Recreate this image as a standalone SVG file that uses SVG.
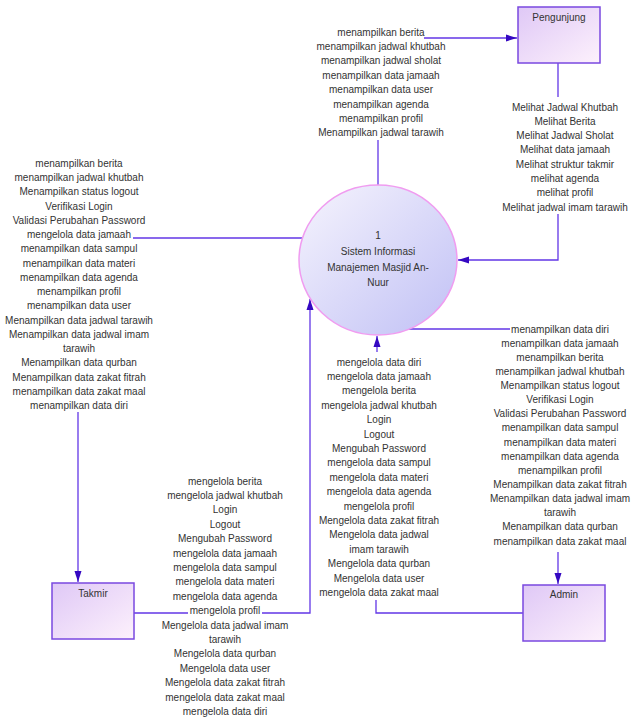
<svg xmlns="http://www.w3.org/2000/svg" width="637" height="718" viewBox="0 0 637 718">
<defs>
<linearGradient id="boxGrad" x1="0" y1="0" x2="1" y2="1">
<stop offset="0" stop-color="#dfc8f6"/>
<stop offset="1" stop-color="#fdf1fc"/>
</linearGradient>
<linearGradient id="procGrad" x1="0" y1="0" x2="1" y2="1">
<stop offset="0" stop-color="#f6f4fd"/>
<stop offset="1" stop-color="#c0c0f5"/>
</linearGradient>
<marker id="arr" markerUnits="userSpaceOnUse" markerWidth="12" markerHeight="9" refX="11" refY="4.5" orient="auto">
<path d="M0,1 L11,4.5 L0,8 z" fill="#3508c2"/>
</marker>
</defs>
<style>
.lbl{font-family:"Liberation Sans",Arial,sans-serif;font-size:10px;fill:#333;text-anchor:middle}
.box{fill:url(#boxGrad);stroke:#7a48e0;stroke-width:1.5}
.conn{fill:none;stroke:#6236e6;stroke-width:1.3}
</style>
<rect width="637" height="718" fill="#fff"/>

<g id="connectors">
<line class="conn" x1="378" y1="185" x2="378" y2="140"/>
<line class="conn" x1="424" y1="38" x2="517" y2="38" marker-end="url(#arr)"/>
<line class="conn" x1="558" y1="63" x2="558" y2="97"/>
<polyline class="conn" points="558,214 558,260 458,260" marker-end="url(#arr)"/>
<line class="conn" x1="302" y1="238" x2="133" y2="238"/>
<line class="conn" x1="78" y1="412" x2="78" y2="582" marker-end="url(#arr)"/>
<line class="conn" x1="134" y1="613" x2="188" y2="613"/>
<polyline class="conn" points="262,613 310,613 310,299" marker-end="url(#arr)"/>
<polyline class="conn" points="523,613 376,613 376,600"/>
<line class="conn" x1="377" y1="352" x2="377" y2="336" marker-end="url(#arr)"/>
<line class="conn" x1="407" y1="329" x2="510" y2="329"/>
<line class="conn" x1="558" y1="552" x2="558" y2="584" marker-end="url(#arr)"/>
</g>

<g id="process1">
<ellipse cx="378" cy="260" rx="79" ry="75" fill="url(#procGrad)" stroke="#f09cf0" stroke-width="1.5"/>
<text class="lbl" x="378" y="238.5">1</text>
<text class="lbl" x="378" y="254.5">Sistem Informasi</text>
<text class="lbl" x="378" y="270.5">Manajemen Masjid An-</text>
<text class="lbl" x="378" y="285.5">Nuur</text>
</g>

<g id="pengunjung">
<rect class="box" x="518" y="7" width="82" height="56"/>
<text class="lbl" x="559" y="21">Pengunjung</text>
</g>

<g id="takmir">
<rect class="box" x="52" y="583" width="82" height="56"/>
<text class="lbl" x="93" y="596.5">Takmir</text>
</g>

<g id="admin">
<rect class="box" x="523" y="585" width="82" height="56"/>
<text class="lbl" x="564" y="598">Admin</text>
</g>

<g id="labels-top">
<text class="lbl" x="381" y="35.5">menampilkan berita</text>
<text class="lbl" x="381" y="49.9">menampilkan jadwal khutbah</text>
<text class="lbl" x="381" y="64.3">menampilkan jadwal sholat</text>
<text class="lbl" x="381" y="78.7">menampilkan data jamaah</text>
<text class="lbl" x="381" y="93.1">menampilkan data user</text>
<text class="lbl" x="381" y="107.5">menampilkan agenda</text>
<text class="lbl" x="381" y="121.9">menampilkan profil</text>
<text class="lbl" x="381" y="136.3">Menampilkan jadwal tarawih</text>
</g>

<g id="labels-pengunjung">
<text class="lbl" x="565" y="110.5">Melihat Jadwal Khutbah</text>
<text class="lbl" x="565" y="124.8">Melihat Berita</text>
<text class="lbl" x="565" y="139.1">Melihat Jadwal Sholat</text>
<text class="lbl" x="565" y="153.4">Melihat data jamaah</text>
<text class="lbl" x="565" y="167.7">Melihat struktur takmir</text>
<text class="lbl" x="565" y="182">melihat agenda</text>
<text class="lbl" x="565" y="196.3">melihat profil</text>
<text class="lbl" x="565" y="210.6">Melihat jadwal imam tarawih</text>
</g>

<g id="labels-left">
<text class="lbl" x="79" y="166.8">menampilkan berita</text>
<text class="lbl" x="79" y="181">menampilkan jadwal khutbah</text>
<text class="lbl" x="79" y="195.3">Menampilkan status logout</text>
<text class="lbl" x="79" y="209.5">Verifikasi Login</text>
<text class="lbl" x="79" y="223.8">Validasi Perubahan Password</text>
<text class="lbl" x="79" y="238">mengelola data jamaah</text>
<text class="lbl" x="79" y="252.3">menampilkan data sampul</text>
<text class="lbl" x="79" y="266.5">menampilkan data materi</text>
<text class="lbl" x="79" y="280.8">menampilkan data agenda</text>
<text class="lbl" x="79" y="295">menampilkan profil</text>
<text class="lbl" x="79" y="309.3">menampilkan data user</text>
<text class="lbl" x="79" y="323.5">Menampilkan data jadwal tarawih</text>
<text class="lbl" x="79" y="337.8">Menampilkan data jadwal imam</text>
<text class="lbl" x="79" y="352">tarawih</text>
<text class="lbl" x="79" y="366.3">Menampilkan data qurban</text>
<text class="lbl" x="79" y="380.5">Menampilkan data zakat fitrah</text>
<text class="lbl" x="79" y="394.8">menampilkan data zakat maal</text>
<text class="lbl" x="79" y="409">menampilkan data diri</text>
</g>

<g id="labels-center">
<text class="lbl" x="379" y="365.5">mengelola data diri</text>
<text class="lbl" x="379" y="379.9">mengelola data jamaah</text>
<text class="lbl" x="379" y="394.3">mengelola berita</text>
<text class="lbl" x="379" y="408.7">mengelola jadwal khutbah</text>
<text class="lbl" x="379" y="423.1">Login</text>
<text class="lbl" x="379" y="437.5">Logout</text>
<text class="lbl" x="379" y="451.9">Mengubah Password</text>
<text class="lbl" x="379" y="466.3">mengelola data sampul</text>
<text class="lbl" x="379" y="480.7">mengelola data materi</text>
<text class="lbl" x="379" y="495.1">mengelola data agenda</text>
<text class="lbl" x="379" y="509.5">mengelola profil</text>
<text class="lbl" x="379" y="523.9">Mengelola data zakat fitrah</text>
<text class="lbl" x="379" y="538.3">Mengelola data jadwal</text>
<text class="lbl" x="379" y="552.7">imam tarawih</text>
<text class="lbl" x="379" y="567.1">Mengelola data qurban</text>
<text class="lbl" x="379" y="581.5">Mengelola data user</text>
<text class="lbl" x="379" y="595.9">mengelola data zakat maal</text>
</g>

<g id="labels-admin">
<text class="lbl" x="560" y="332.5">menampilkan data diri</text>
<text class="lbl" x="560" y="346.6">menampilkan data jamaah</text>
<text class="lbl" x="560" y="360.8">menampilkan berita</text>
<text class="lbl" x="560" y="374.9">menampilkan jadwal khutbah</text>
<text class="lbl" x="560" y="389">Menampilkan status logout</text>
<text class="lbl" x="560" y="403.2">Verifikasi Login</text>
<text class="lbl" x="560" y="417.3">Validasi Perubahan Password</text>
<text class="lbl" x="560" y="431.4">menampilkan data sampul</text>
<text class="lbl" x="560" y="445.6">menampilkan data materi</text>
<text class="lbl" x="560" y="459.7">menampilkan data agenda</text>
<text class="lbl" x="560" y="473.8">menampilkan profil</text>
<text class="lbl" x="560" y="488">Menampilkan data zakat fitrah</text>
<text class="lbl" x="560" y="502.1">Menampilkan data jadwal imam</text>
<text class="lbl" x="560" y="516.2">tarawih</text>
<text class="lbl" x="560" y="530.4">Menampilkan data qurban</text>
<text class="lbl" x="560" y="544.5">menampilkan data zakat maal</text>
</g>

<g id="labels-takmir">
<text class="lbl" x="225" y="484.5">mengelola berita</text>
<text class="lbl" x="225" y="498.9">mengelola jadwal khutbah</text>
<text class="lbl" x="225" y="513.3">Login</text>
<text class="lbl" x="225" y="527.7">Logout</text>
<text class="lbl" x="225" y="542.1">Mengubah Password</text>
<text class="lbl" x="225" y="556.5">mengelola data jamaah</text>
<text class="lbl" x="225" y="570.9">mengelola data sampul</text>
<text class="lbl" x="225" y="585.3">mengelola data materi</text>
<text class="lbl" x="225" y="599.7">mengelola data agenda</text>
<text class="lbl" x="225" y="614.1">mengelola profil</text>
<text class="lbl" x="225" y="628.5">Mengelola data jadwal imam</text>
<text class="lbl" x="225" y="642.9">tarawih</text>
<text class="lbl" x="225" y="657.3">Mengelola data qurban</text>
<text class="lbl" x="225" y="671.7">Mengelola data user</text>
<text class="lbl" x="225" y="686.1">Mengelola data zakat fitrah</text>
<text class="lbl" x="225" y="700.5">mengelola data zakat maal</text>
<text class="lbl" x="225" y="714.9">mengelola data diri</text>
</g>
</svg>
